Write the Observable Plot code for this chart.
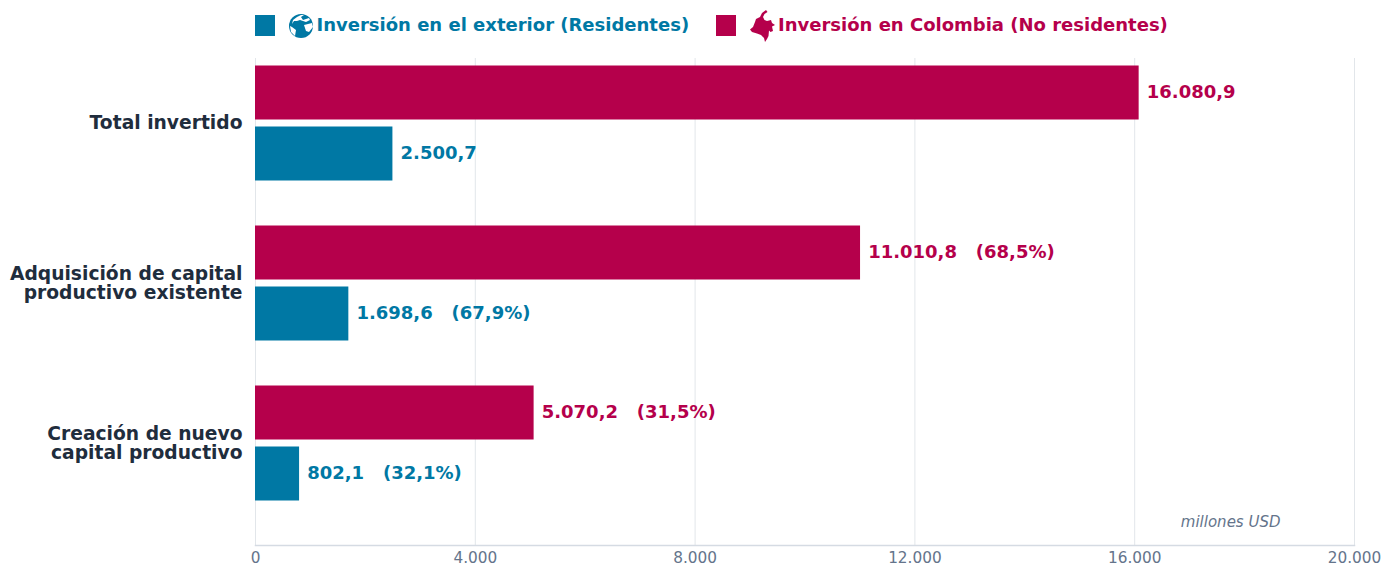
<!DOCTYPE html>
<html><head><meta charset="utf-8">
<script src="https://cdn.jsdelivr.net/npm/d3@7"></script>
<script src="https://cdn.jsdelivr.net/npm/@observablehq/plot@0.6"></script>
<style>
html,body{margin:0;padding:0;background:#fff;}
#wrap{position:relative;width:1389px;height:567px;overflow:hidden;font-family:"DejaVu Sans",sans-serif;}
#legend{position:absolute;left:0;top:0;width:1389px;height:50px;font-weight:700;font-size:18px;}
#legend span,#legend i,#legend svg{position:absolute;display:block;}
#legend i{width:20px;height:21px;top:15px;}
#legend span{top:14px;white-space:nowrap;line-height:22px;}
#chart{position:absolute;left:0;top:0;}
</style></head><body>
<div id="wrap"><div id="chart"></div>
<div id="legend">
<i style="left:255px;background:#0078a4"></i>
<svg style="left:289px;top:13px" width="25" height="26" viewBox="0 0 25 26">
<circle cx="12" cy="13" r="12" fill="#0078a4"/>
<path d="M8 4 L12 2 L15 2 L12 4 L14 7 L17 6 L20 5 L21 7 L17 9 L14 8 L11 7 L8 8 L5 8 L3 11 L4 7Z M15 12 L23 10 L24 14 L20 19 L17 18Z M1 13 L3 14 L7 17 L6 23 L2 19Z" fill="#fff"/>
</svg>
<span style="left:316.5px;color:#0078a4">Inversión en el exterior (Residentes)</span>
<i style="left:716px;background:#b5004b"></i>
<svg style="left:749px;top:9px" width="27" height="34" viewBox="0 0 27 34">
<path d="M17 1 L18.5 3 L15.5 5 L14 8 L15.5 11 L18 12 L22 11 L23 14 L26 16 L23 17.5 L24 22 L21.5 23 L20 21.5 L19.5 27 L18 30 L16 33 L15 29 L12 26 L8 24.5 L3 23 L1 20.5 L4 18 L6 13 L7 10 L11 8 L13 4Z" fill="#b5004b"/>
</svg>
<span style="left:778px;color:#b5004b">Inversión en Colombia (No residentes)</span>
</div></div>
<script>
const categories = ["Total invertido", "Adquisición de capital\nproductivo existente", "Creación de nuevo\ncapital productivo"];
const colombia = [16080.9, 11010.8, 5070.2];
const exterior = [2500.7, 1698.6, 802.1];
const colombiaLabels = ["16.080,9", "11.010,8   (68,5%)", "5.070,2   (31,5%)"];
const exteriorLabels = ["2.500,7", "1.698,6   (67,9%)", "802,1   (32,1%)"];
const xTicks = [0, 4000, 8000, 12000, 16000, 20000];
const xTickLabels = ["0", "4.000", "8.000", "12.000", "16.000", "20.000"];
const unitLabel = ["millones USD"];

const blue = "#0078a4", red = "#b5004b";
const rows = (vals, labs) => categories.map((c, i) => ({c, v: vals[i], l: labs[i]}));
const rowsC = rows(colombia, colombiaLabels), rowsE = rows(exterior, exteriorLabels);
const labelStyle = {x: "v", y: "c", text: "l", textAnchor: "start", dx: 7.6, fontSize: 18, fontWeight: 700, fontFamily: "DejaVu Sans"};

const plot = Plot.plot({
  width: 1389, height: 567,
  marginLeft: 255, marginRight: 35, marginTop: 58, marginBottom: 22,
  style: {background: "transparent", overflow: "visible", fontFamily: "DejaVu Sans", color: "#1f2d3d"},
  x: {domain: [0, 20000], range: [255, 1354], label: null},
  y: {domain: categories, range: [42.5, 522.5], padding: 0, label: null},
  marks: [
    Plot.gridX(xTicks, {stroke: "#e2e6ea", strokeOpacity: 1, strokeWidth: 1}),
    Plot.frame({anchor: "bottom", stroke: "#d5dbe3", strokeWidth: 1.5}),
    Plot.barX(rowsC, {x: "v", y: "c", fill: red, insetTop: 22.5, insetBottom: 83.5}),
    Plot.barX(rowsE, {x: "v", y: "c", fill: blue, insetTop: 83.5, insetBottom: 22.5}),
    Plot.text(rowsC, {...labelStyle, fill: red, dy: -31.5}),
    Plot.text(rowsE, {...labelStyle, fill: blue, dy: 29.5}),
    Plot.text(unitLabel, {frameAnchor: "bottom-right", text: d => d, dx: -74, dy: -23, fontSize: 15, fontStyle: "italic", fill: "#64748b", fontFamily: "DejaVu Sans", lineAnchor: "middle"}),
    Plot.axisY({tickSize: 0, tickPadding: 13, label: null, fontSize: 18.7, fontWeight: 700, fill: "#1f2d3d", lineHeight: 0.99, fontFamily: "DejaVu Sans"}),
    Plot.axisX({ticks: xTicks, tickFormat: d => xTickLabels[xTicks.indexOf(d)], tickSize: 0, tickPadding: 7, label: null, fontSize: 15.3, fill: "#64748b", stroke: "none", fontFamily: "DejaVu Sans"})
  ]
});
document.getElementById("chart").appendChild(plot);
</script></body></html>
